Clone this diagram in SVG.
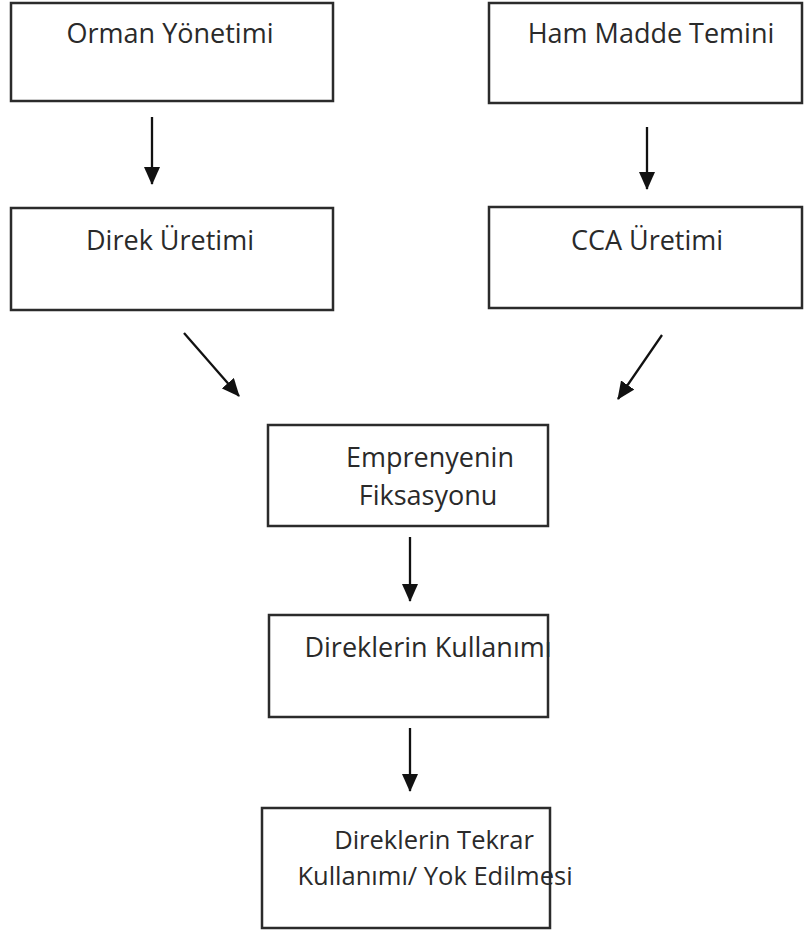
<svg xmlns="http://www.w3.org/2000/svg" width="805" height="931" viewBox="0 0 805 931">
<defs>
<marker id="ah" markerWidth="18" markerHeight="16" refX="17" refY="8" orient="auto" markerUnits="userSpaceOnUse">
<path d="M0,0 L18,8 L0,16 Z" fill="#111"/>
</marker>
<style>
.box{fill:#fff;stroke:#2b2b2b;stroke-width:2.5}
.t{font-family:"Open Sans","Noto Sans",sans-serif;font-size:27px;fill:#2a2a2a;text-anchor:middle}
.s{font-size:25.5px}
.c{stroke:#111;stroke-width:2.3;fill:none;marker-end:url(#ah)}
</style>
</defs>
<rect width="805" height="931" fill="#fff"/>
<g id="n1"><rect class="box" x="11" y="3" width="322" height="98"/><text class="t" x="170" y="43">Orman Yönetimi</text></g>
<g id="n2"><rect class="box" x="489" y="3" width="313" height="100"/><text class="t" x="651" y="43">Ham Madde Temini</text></g>
<g id="n3"><rect class="box" x="11" y="208" width="322" height="102"/><text class="t" x="170" y="250">Direk Üretimi</text></g>
<g id="n4"><rect class="box" x="489" y="207" width="313" height="101"/><text class="t" x="647" y="250">CCA Üretimi</text></g>
<g id="n5"><rect class="box" x="268" y="425" width="280" height="101"/><text class="t" x="430" y="467">Emprenyenin</text><text class="t" x="428" y="505">Fiksasyonu</text></g>
<g id="n6"><rect class="box" x="269" y="615" width="279" height="102"/><text class="t" x="428" y="657">Direklerin Kullanımı</text></g>
<g id="n7"><rect class="box" x="262" y="808" width="288" height="120"/><text class="t s" x="434" y="849">Direklerin Tekrar</text><text class="t s" x="435" y="885">Kullanımı/ Yok Edilmesi</text></g>
<g id="connectors">
<line class="c" x1="152" y1="117" x2="152" y2="184"/>
<line class="c" x1="647" y1="127" x2="647" y2="189"/>
<line class="c" x1="184" y1="333" x2="239" y2="396"/>
<line class="c" x1="662" y1="335" x2="618" y2="399"/>
<line class="c" x1="410" y1="537" x2="410" y2="601"/>
<line class="c" x1="410" y1="728" x2="410" y2="791"/>
</g>
</svg>
